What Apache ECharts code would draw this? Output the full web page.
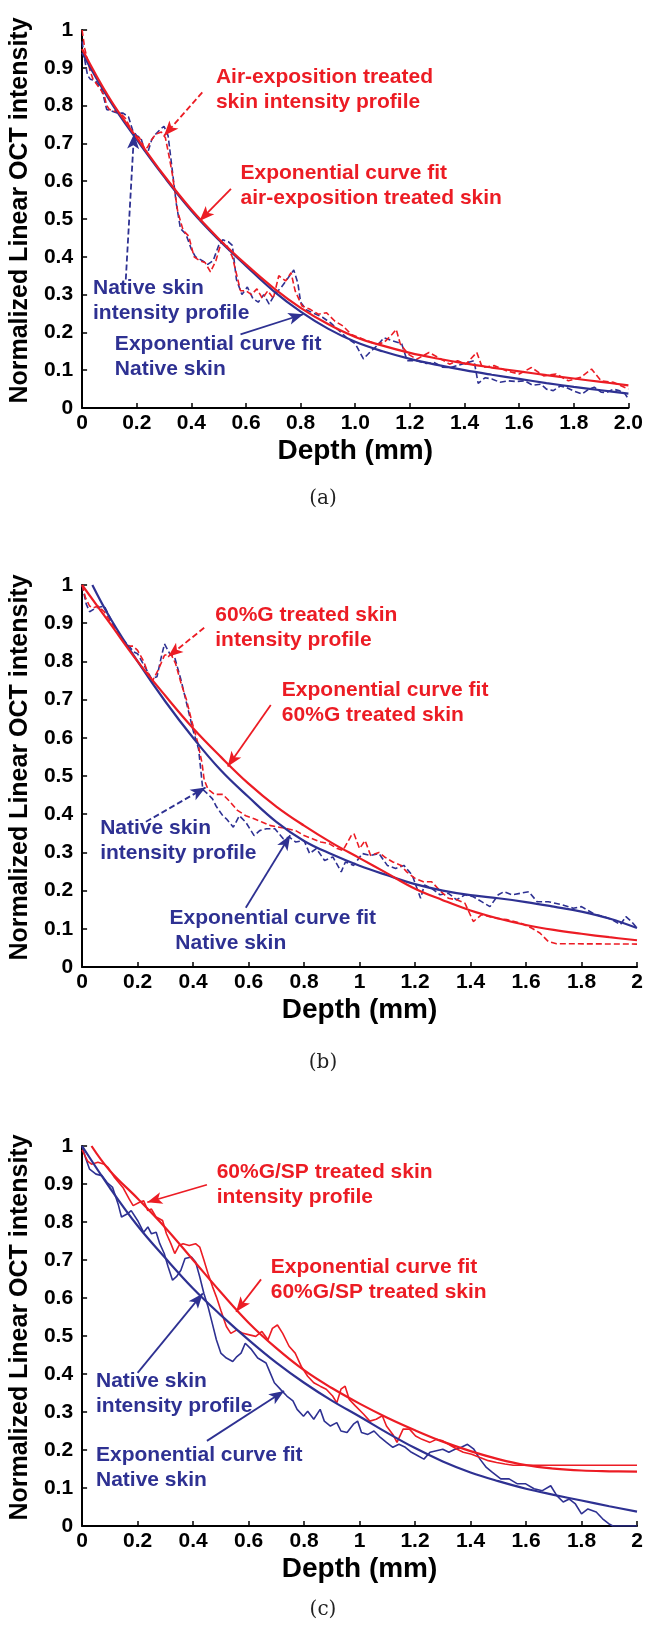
<!DOCTYPE html>
<html>
<head>
<meta charset="utf-8">
<script src="https://cdn.jsdelivr.net/npm/echarts@6/dist/echarts.min.js"></script>
<style>
  html, body { margin: 0; padding: 0; background: #fff; }
  #main { width: 646px; height: 1631px; }
</style>
</head>
<body>
<div id="main"></div>
<script>
// ---- panel (a): air-exposition treated vs native skin ----
const aAirProfile = [
  [0,1.0],[0.01,0.95],[0.02,0.92],[0.03,0.89],[0.04,0.87],[0.06,0.85],[0.08,0.83],[0.09,0.80],[0.1,0.79],
  [0.12,0.785],[0.14,0.78],[0.16,0.765],[0.17,0.75],[0.19,0.72],[0.21,0.715],[0.22,0.70],[0.23,0.685],
  [0.24,0.69],[0.25,0.705],[0.27,0.725],[0.29,0.73],[0.305,0.715],[0.32,0.66],[0.33,0.62],[0.35,0.52],
  [0.37,0.47],[0.39,0.455],[0.41,0.40],[0.43,0.39],[0.45,0.385],[0.47,0.36],[0.49,0.39],[0.51,0.44],
  [0.53,0.43],[0.55,0.40],[0.57,0.34],[0.58,0.31],[0.6,0.31],[0.62,0.30],[0.64,0.315],[0.66,0.29],
  [0.68,0.31],[0.70,0.29],[0.72,0.35],[0.745,0.336],[0.765,0.358],[0.78,0.31],[0.805,0.27],[0.835,0.261],
  [0.865,0.248],[0.895,0.252],[0.925,0.23],[0.955,0.217],[0.985,0.195],[1.015,0.186],[1.045,0.178],
  [1.075,0.169],[1.105,0.173],[1.135,0.195],[1.15,0.208],[1.165,0.169],[1.195,0.142],[1.225,0.129],
  [1.27,0.147],[1.315,0.129],[1.345,0.116],[1.375,0.125],[1.405,0.116],[1.445,0.147],[1.465,0.107],
  [1.51,0.112],[1.555,0.098],[1.6,0.09],[1.645,0.107],[1.69,0.085],[1.735,0.09],[1.78,0.072],
  [1.825,0.081],[1.865,0.103],[1.9,0.072],[1.945,0.068],[2.0,0.05]
];
const aNativeProfile = [
  [0,0.97],[0.01,0.92],[0.02,0.88],[0.03,0.87],[0.05,0.865],[0.07,0.845],[0.08,0.82],[0.09,0.79],
  [0.11,0.785],[0.13,0.78],[0.15,0.78],[0.17,0.77],[0.185,0.735],[0.2,0.72],[0.215,0.715],[0.23,0.68],
  [0.24,0.675],[0.255,0.71],[0.27,0.725],[0.29,0.74],[0.3,0.745],[0.315,0.72],[0.33,0.63],[0.345,0.54],
  [0.36,0.475],[0.38,0.46],[0.40,0.42],[0.415,0.40],[0.44,0.39],[0.46,0.38],[0.48,0.39],[0.50,0.43],
  [0.515,0.445],[0.535,0.44],[0.55,0.43],[0.565,0.34],[0.585,0.30],[0.605,0.32],[0.625,0.29],
  [0.645,0.28],[0.665,0.30],[0.685,0.275],[0.705,0.30],[0.73,0.32],[0.75,0.34],[0.775,0.365],
  [0.79,0.33],[0.80,0.28],[0.82,0.26],[0.85,0.25],[0.88,0.24],[0.91,0.225],[0.94,0.205],[0.97,0.185],
  [1.0,0.17],[1.015,0.15],[1.03,0.13],[1.05,0.145],[1.08,0.165],[1.105,0.186],[1.135,0.178],
  [1.17,0.17],[1.19,0.125],[1.225,0.125],[1.26,0.118],[1.29,0.12],[1.32,0.108],[1.35,0.107],
  [1.39,0.116],[1.435,0.125],[1.45,0.065],[1.475,0.08],[1.5,0.077],[1.53,0.068],[1.56,0.072],
  [1.59,0.07],[1.62,0.072],[1.65,0.06],[1.68,0.063],[1.7,0.05],[1.725,0.046],[1.75,0.058],
  [1.77,0.055],[1.8,0.045],[1.83,0.037],[1.855,0.05],[1.875,0.055],[1.9,0.042],[1.92,0.041],
  [1.945,0.05],[1.965,0.046],[1.985,0.04],[2.0,0.024]
];
const aAirFit = [
  [0,0.95],[0.1,0.82],[0.2,0.715],[0.3,0.615],[0.4,0.525],[0.5,0.448],[0.6,0.38],[0.7,0.318],
  [0.8,0.265],[0.9,0.222],[1.0,0.188],[1.1,0.165],[1.2,0.146],[1.3,0.131],[1.4,0.118],[1.5,0.107],
  [1.6,0.097],[1.7,0.087],[1.8,0.078],[1.9,0.069],[2.0,0.06]
];
const aNativeFit = [
  [0,0.94],[0.1,0.815],[0.2,0.71],[0.3,0.612],[0.4,0.522],[0.5,0.445],[0.6,0.376],[0.7,0.31],
  [0.8,0.255],[0.9,0.21],[1.0,0.175],[1.1,0.15],[1.2,0.13],[1.3,0.114],[1.4,0.1],[1.5,0.088],
  [1.6,0.077],[1.7,0.066],[1.8,0.056],[1.9,0.047],[2.0,0.038]
];

// ---- panel (b): 60%G treated vs native skin ----
const bGlycProfile = [
  [0,1.0],[0.012,0.967],[0.027,0.945],[0.04,0.94],[0.057,0.945],[0.08,0.93],[0.1,0.907],[0.125,0.88],
  [0.147,0.855],[0.166,0.84],[0.184,0.84],[0.2,0.829],[0.222,0.80],[0.237,0.77],[0.252,0.747],
  [0.274,0.777],[0.297,0.816],[0.32,0.82],[0.337,0.794],[0.357,0.742],[0.376,0.70],[0.394,0.647],
  [0.417,0.587],[0.432,0.535],[0.44,0.49],[0.454,0.465],[0.477,0.452],[0.507,0.452],[0.53,0.435],
  [0.56,0.41],[0.59,0.396],[0.62,0.388],[0.65,0.379],[0.68,0.37],[0.71,0.366],[0.74,0.362],
  [0.77,0.357],[0.80,0.344],[0.83,0.336],[0.86,0.327],[0.89,0.323],[0.92,0.31],[0.94,0.305],
  [0.97,0.344],[0.98,0.349],[1.0,0.31],[1.02,0.331],[1.04,0.292],[1.07,0.30],[1.09,0.288],
  [1.12,0.275],[1.15,0.266],[1.17,0.249],[1.2,0.232],[1.23,0.223],[1.26,0.223],[1.29,0.20],
  [1.32,0.18],[1.35,0.176],[1.38,0.167],[1.41,0.119],[1.44,0.137],[1.49,0.128],[1.53,0.124],
  [1.58,0.115],[1.62,0.102],[1.65,0.089],[1.68,0.067],[1.71,0.061],[2.0,0.06]
];
const bNativeProfile = [
  [0,1.0],[0.015,0.95],[0.027,0.93],[0.05,0.94],[0.08,0.945],[0.1,0.915],[0.125,0.88],[0.15,0.855],
  [0.17,0.84],[0.185,0.825],[0.2,0.82],[0.22,0.794],[0.25,0.755],[0.27,0.76],[0.285,0.81],
  [0.297,0.846],[0.316,0.82],[0.334,0.81],[0.357,0.75],[0.38,0.68],[0.40,0.62],[0.42,0.57],
  [0.43,0.50],[0.435,0.465],[0.454,0.452],[0.47,0.44],[0.484,0.42],[0.507,0.396],[0.52,0.388],
  [0.545,0.366],[0.567,0.396],[0.59,0.379],[0.62,0.344],[0.64,0.357],[0.665,0.362],[0.695,0.362],
  [0.725,0.336],[0.747,0.34],[0.77,0.327],[0.80,0.331],[0.82,0.297],[0.844,0.31],[0.874,0.279],
  [0.904,0.288],[0.934,0.249],[0.949,0.275],[0.979,0.266],[1.01,0.297],[1.04,0.292],[1.07,0.297],
  [1.1,0.266],[1.13,0.258],[1.16,0.266],[1.19,0.24],[1.22,0.18],[1.234,0.215],[1.26,0.206],
  [1.29,0.189],[1.32,0.193],[1.35,0.176],[1.38,0.189],[1.41,0.184],[1.44,0.171],[1.47,0.158],
  [1.5,0.189],[1.52,0.197],[1.55,0.189],[1.58,0.193],[1.61,0.197],[1.64,0.171],[1.68,0.171],
  [1.73,0.163],[1.77,0.154],[1.8,0.158],[1.85,0.137],[1.88,0.132],[1.91,0.124],[1.94,0.111],
  [1.96,0.132],[1.98,0.119],[2.0,0.102]
];
const bGlycFit = [
  [0,1.0],[0.1,0.9],[0.2,0.80],[0.3,0.71],[0.4,0.625],[0.5,0.55],[0.6,0.48],[0.7,0.42],[0.8,0.37],
  [0.9,0.325],[1.0,0.285],[1.1,0.245],[1.2,0.205],[1.3,0.175],[1.4,0.148],[1.5,0.127],[1.6,0.11],
  [1.7,0.097],[1.8,0.087],[1.9,0.078],[2.0,0.07]
];
const bNativeFit = [
  [0.037,1.0],[0.1,0.915],[0.2,0.80],[0.3,0.695],[0.4,0.60],[0.5,0.515],[0.6,0.445],[0.7,0.38],
  [0.8,0.33],[0.9,0.295],[1.0,0.265],[1.1,0.24],[1.2,0.217],[1.3,0.2],[1.4,0.188],[1.5,0.18],
  [1.6,0.17],[1.7,0.158],[1.8,0.145],[1.9,0.127],[2.0,0.102]
];

// ---- panel (c): 60%G/SP treated vs native skin ----
const cSPProfile = [
  [0,0.99],[0.01,0.975],[0.02,0.96],[0.034,0.952],[0.057,0.957],[0.08,0.952],[0.094,0.943],
  [0.117,0.917],[0.147,0.891],[0.17,0.86],[0.184,0.843],[0.207,0.852],[0.222,0.856],[0.237,0.83],
  [0.25,0.834],[0.267,0.813],[0.29,0.804],[0.304,0.769],[0.32,0.743],[0.334,0.717],[0.349,0.738],
  [0.364,0.743],[0.386,0.738],[0.409,0.743],[0.424,0.734],[0.439,0.70],[0.454,0.664],[0.47,0.63],
  [0.484,0.603],[0.50,0.568],[0.52,0.525],[0.536,0.507],[0.558,0.516],[0.58,0.507],[0.603,0.503],
  [0.626,0.499],[0.648,0.512],[0.67,0.49],[0.686,0.52],[0.704,0.529],[0.723,0.507],[0.746,0.473],
  [0.768,0.455],[0.79,0.42],[0.813,0.394],[0.835,0.377],[0.858,0.368],[0.88,0.36],[0.903,0.342],
  [0.918,0.324],[0.933,0.36],[0.948,0.368],[0.963,0.333],[0.985,0.316],[1.015,0.294],[1.037,0.276],
  [1.06,0.281],[1.082,0.29],[1.097,0.263],[1.12,0.241],[1.135,0.22],[1.157,0.255],[1.18,0.255],
  [1.202,0.237],[1.225,0.228],[1.254,0.22],[1.277,0.228],[1.3,0.224],[1.33,0.211],[1.352,0.202],
  [1.374,0.194],[1.404,0.189],[1.434,0.18],[1.464,0.172],[1.494,0.167],[1.524,0.163],[1.554,0.16],
  [2.0,0.16]
];
const cNativeProfile = [
  [0,1.0],[0.012,0.97],[0.027,0.939],[0.05,0.926],[0.072,0.922],[0.09,0.904],[0.11,0.891],
  [0.13,0.847],[0.142,0.813],[0.162,0.821],[0.177,0.83],[0.2,0.804],[0.222,0.773],[0.237,0.787],
  [0.25,0.769],[0.267,0.773],[0.28,0.743],[0.296,0.717],[0.31,0.682],[0.326,0.647],[0.34,0.656],
  [0.356,0.673],[0.371,0.704],[0.394,0.708],[0.409,0.695],[0.424,0.656],[0.439,0.612],[0.454,0.577],
  [0.469,0.534],[0.484,0.49],[0.50,0.455],[0.52,0.442],[0.543,0.433],[0.558,0.446],[0.573,0.455],
  [0.588,0.481],[0.611,0.464],[0.633,0.442],[0.663,0.429],[0.678,0.403],[0.693,0.377],[0.716,0.359],
  [0.738,0.342],[0.76,0.329],[0.775,0.307],[0.798,0.289],[0.813,0.302],[0.835,0.281],[0.858,0.307],
  [0.873,0.276],[0.895,0.263],[0.918,0.272],[0.933,0.25],[0.955,0.246],[0.978,0.268],[0.993,0.276],
  [1.007,0.246],[1.03,0.241],[1.052,0.25],[1.075,0.233],[1.097,0.22],[1.12,0.207],[1.142,0.215],
  [1.165,0.207],[1.187,0.194],[1.21,0.185],[1.232,0.176],[1.254,0.194],[1.277,0.198],[1.3,0.202],
  [1.322,0.194],[1.344,0.202],[1.367,0.207],[1.389,0.215],[1.412,0.202],[1.434,0.176],[1.457,0.154],
  [1.479,0.141],[1.509,0.124],[1.539,0.124],[1.569,0.111],[1.599,0.111],[1.629,0.098],[1.659,0.093],
  [1.689,0.106],[1.711,0.08],[1.734,0.063],[1.756,0.071],[1.778,0.058],[1.80,0.032],[1.823,0.045],
  [1.853,0.037],[1.876,0.019],[1.898,0.006],[1.913,0.0],[2.0,0.0]
];
const cSPFit = [
  [0.034,1.0],[0.1,0.935],[0.2,0.862],[0.3,0.785],[0.4,0.70],[0.5,0.615],[0.6,0.535],[0.7,0.468],
  [0.8,0.41],[0.9,0.363],[1.0,0.322],[1.1,0.285],[1.2,0.252],[1.3,0.222],[1.4,0.197],[1.5,0.176],
  [1.6,0.16],[1.7,0.151],[1.8,0.146],[1.9,0.144],[2.0,0.143]
];
const cNativeFit = [
  [0,1.0],[0.1,0.89],[0.2,0.79],[0.3,0.705],[0.4,0.625],[0.5,0.555],[0.6,0.49],[0.7,0.43],
  [0.8,0.377],[0.9,0.33],[1.0,0.288],[1.1,0.245],[1.2,0.205],[1.3,0.17],[1.4,0.141],[1.5,0.118],
  [1.6,0.098],[1.7,0.082],[1.8,0.067],[1.9,0.052],[2.0,0.038]
];

const RED = '#ec1c24';
const BLUE = '#2e3192';
const FONT = '"Liberation Sans", Arial, sans-serif';

// annotations, in data coordinates of each panel
const notes = [
  {g: 0, x: 0.49, y: 0.842, c: RED,  t: 'Air-exposition treated\nskin intensity profile'},
  {g: 0, x: 0.58, y: 0.587, c: RED,  t: 'Exponential curve fit\nair-exposition treated skin'},
  {g: 0, x: 0.04, y: 0.285, c: BLUE, t: 'Native skin\nintensity profile'},
  {g: 0, x: 0.12, y: 0.135, c: BLUE, t: 'Exponential curve fit\nNative skin'},
  {g: 1, x: 0.48, y: 0.888, c: RED,  t: '60%G treated skin\nintensity profile'},
  {g: 1, x: 0.72, y: 0.691, c: RED,  t: 'Exponential curve fit\n60%G treated skin'},
  {g: 1, x: 0.065, y: 0.33, c: BLUE, t: 'Native skin\nintensity profile'},
  {g: 1, x: 0.315, y: 0.096, c: BLUE, t: 'Exponential curve fit\n Native skin'},
  {g: 2, x: 0.485, y: 0.899, c: RED,  t: '60%G/SP treated skin\nintensity profile'},
  {g: 2, x: 0.68, y: 0.649, c: RED,  t: 'Exponential curve fit\n60%G/SP treated skin'},
  {g: 2, x: 0.05, y: 0.349, c: BLUE, t: 'Native skin\nintensity profile'},
  {g: 2, x: 0.05, y: 0.154, c: BLUE, t: 'Exponential curve fit\nNative skin'}
];
// arrows: from -> to (arrowhead), dashed or not
const arrows = [
  [{from: [0.44, 0.835], to: [0.3, 0.72], c: RED, d: true},
   {from: [0.545, 0.58], to: [0.43, 0.495], c: RED, d: false},
   {from: [0.16, 0.34], to: [0.19, 0.725], c: BLUE, d: true},
   {from: [0.58, 0.195], to: [0.81, 0.248], c: BLUE, d: false}],
  [{from: [0.44, 0.888], to: [0.31, 0.812], c: RED, d: true},
   {from: [0.68, 0.686], to: [0.525, 0.525], c: RED, d: false},
   {from: [0.23, 0.38], to: [0.445, 0.47], c: BLUE, d: true},
   {from: [0.59, 0.155], to: [0.75, 0.345], c: BLUE, d: false}],
  [{from: [0.45, 0.898], to: [0.235, 0.852], c: RED, d: false},
   {from: [0.645, 0.649], to: [0.555, 0.564], c: RED, d: false},
   {from: [0.2, 0.403], to: [0.435, 0.612], c: BLUE, d: false},
   {from: [0.45, 0.224], to: [0.728, 0.355], c: BLUE, d: false}]
];

const grids = [
  {left: 73, right: 9, top: 30, height: 378},
  {left: 75, right: 9, top: 585, height: 382},
  {left: 73, right: 9, top: 1146, height: 380}
];

function xAxisFor(i, fmt) {
  return {
    type: 'value', gridIndex: i, min: 0, max: 2, interval: 0.2,
    name: 'Depth (mm)', nameLocation: 'middle', nameGap: 29,
    nameTextStyle: {color: '#000', fontWeight: 'bold', fontSize: 28, fontFamily: FONT},
    axisLine: {lineStyle: {color: '#000', width: 2}},
    axisTick: {inside: true, length: 5, lineStyle: {color: '#000', width: 1.5}},
    splitLine: {show: false},
    axisLabel: {color: '#000', fontWeight: 'bold', fontSize: 21, fontFamily: FONT, margin: 5, formatter: fmt}
  };
}
function yAxisFor(i) {
  return {
    type: 'value', gridIndex: i, min: 0, max: 1, interval: 0.1,
    name: 'Normalized Linear OCT intensity', nameLocation: 'middle', nameGap: 30,
    nameTextStyle: {color: '#000', fontWeight: 'bold', fontSize: 25, fontFamily: FONT, padding: [0, 0, 0, 17]},
    axisLine: {lineStyle: {color: '#000', width: 2}},
    axisTick: {inside: true, length: 5, lineStyle: {color: '#000', width: 1.5}},
    splitLine: {show: false},
    axisLabel: {color: '#000', fontWeight: 'bold', fontSize: 21, fontFamily: FONT, margin: 9,
      formatter: v => String(+v.toFixed(1))}
  };
}
const fmtA = v => v === 0 ? '0' : v.toFixed(1);
const fmtB = v => String(+v.toFixed(1));

function profile(i, data, color, dashed) {
  return {
    type: 'line', xAxisIndex: i, yAxisIndex: i, data: data, showSymbol: false,
    lineStyle: {color: color, width: 1.6, type: dashed ? [6, 3] : 'solid'}, z: 2
  };
}
function fit(i, data, color) {
  return {
    type: 'line', xAxisIndex: i, yAxisIndex: i, data: data, showSymbol: false, smooth: 0.4,
    lineStyle: {color: color, width: 2.2}, z: 3
  };
}
function arrowSeries(i) {
  return {
    type: 'line', xAxisIndex: i, yAxisIndex: i, data: [], z: 4,
    markLine: {
      silent: true, animation: false, symbol: ['none', 'arrow'], symbolSize: [9, 15],
      label: {show: false},
      data: arrows[i].map(a => [
        {coord: a.from, lineStyle: {color: a.c, width: 1.8, type: a.d ? [6, 3] : 'solid'}, itemStyle: {color: a.c}},
        {coord: a.to}
      ])
    }
  };
}

const chart = echarts.init(document.getElementById('main'));
chart.setOption({
  animation: false,
  backgroundColor: '#fff',
  grid: grids,
  xAxis: [xAxisFor(0, fmtA), xAxisFor(1, fmtB), xAxisFor(2, fmtB)],
  yAxis: [yAxisFor(0), yAxisFor(1), yAxisFor(2)],
  series: [
    profile(0, aNativeProfile, BLUE, true),
    profile(0, aAirProfile, RED, true),
    fit(0, aNativeFit, BLUE),
    fit(0, aAirFit, RED),
    arrowSeries(0),
    profile(1, bNativeProfile, BLUE, true),
    profile(1, bGlycProfile, RED, true),
    fit(1, bNativeFit, BLUE),
    fit(1, bGlycFit, RED),
    arrowSeries(1),
    profile(2, cNativeProfile, BLUE, false),
    profile(2, cSPProfile, RED, false),
    fit(2, cNativeFit, BLUE),
    fit(2, cSPFit, RED),
    arrowSeries(2)
  ]
});

const graphics = notes.map(n => {
  const p = chart.convertToPixel({gridIndex: n.g}, [n.x, n.y]);
  return {
    type: 'text', x: p[0], y: p[1], z: 10,
    style: {text: n.t, fill: n.c, font: 'bold 21px ' + FONT, lineHeight: 25,
      align: 'left', verticalAlign: 'middle'}
  };
});
['(a)', '(b)', '(c)'].forEach((t, k) => {
  graphics.push({
    type: 'text', x: 323, y: [499, 1063, 1610][k], z: 10,
    style: {text: t, fill: '#222', font: '20px "DejaVu Serif", "Liberation Serif", serif',
      align: 'center', verticalAlign: 'middle'}
  });
});
chart.setOption({graphic: graphics});
</script>
</body>
</html>
